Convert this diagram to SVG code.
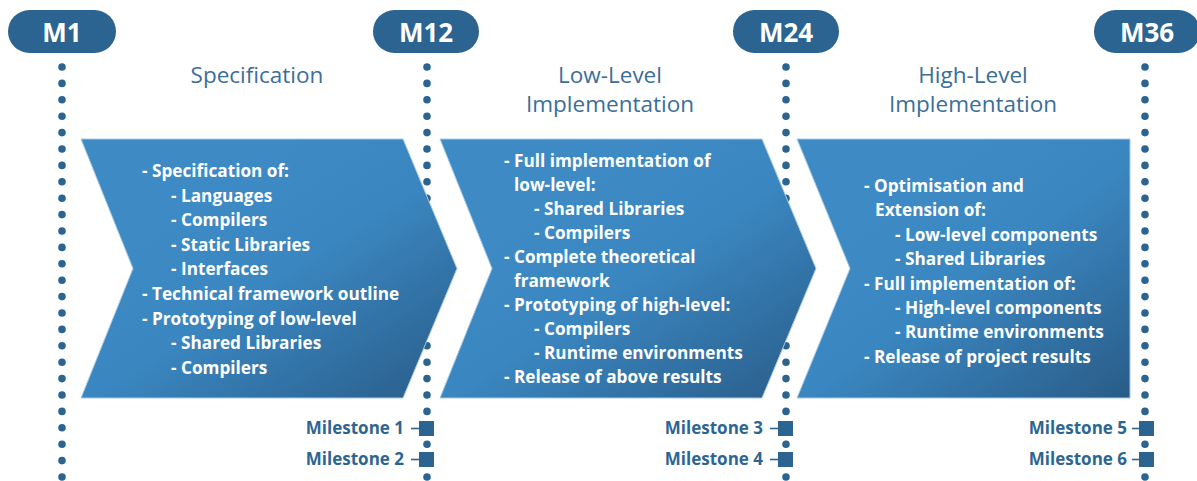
<svg xmlns="http://www.w3.org/2000/svg" width="1197" height="481" viewBox="0 0 1197 481">
  <style>
    .pill { fill: #2b6490; }
    .pill-label { font-family: "Open Sans", "Liberation Sans", sans-serif; font-weight: 700; font-size: 26px; fill: #ffffff; text-anchor: middle; }
    .timeline { stroke: #2b6490; stroke-width: 7.6; stroke-linecap: round; stroke-dasharray: 0 16.4; fill: none; }
    .phase { fill: url(#phaseFill); stroke: #a9c9e4; stroke-width: 1; }
    .title { font-family: "Open Sans", "Liberation Sans", sans-serif; font-size: 22.5px; fill: #3a6e9b; text-anchor: middle; }
    .body { font-family: "Open Sans", "Liberation Sans", sans-serif; font-weight: 700; font-size: 17.2px; fill: #ffffff; }
    .ms-label { font-family: "Open Sans", "Liberation Sans", sans-serif; font-weight: 700; font-size: 17px; fill: #2d6592; text-anchor: end; }
    .ms-box { fill: #2b6490; }
    .ms-tick { stroke: #2b6490; stroke-width: 1.6; }
  </style>
  <defs>
    <linearGradient id="phaseFill" x1="0.3" y1="0.25" x2="1" y2="1">
      <stop offset="0" stop-color="#3d8ac5"/>
      <stop offset="0.35" stop-color="#3a86c0"/>
      <stop offset="1" stop-color="#295c88"/>
    </linearGradient>
  </defs>

  <rect width="1197" height="481" fill="#ffffff"/>

  <!-- dotted month timelines -->
  <g id="connectors">
    <line class="timeline" x1="62" y1="67" x2="62" y2="477"/>
    <line class="timeline" x1="427" y1="67" x2="427" y2="477"/>
    <line class="timeline" x1="786" y1="67" x2="786" y2="477"/>
    <line class="timeline" x1="1145" y1="67" x2="1145" y2="477"/>
  </g>

  <!-- month badges -->
  <g id="m1">
    <rect class="pill" x="8" y="10" width="108" height="43" rx="21.5"/>
    <text class="pill-label" x="62" y="41.5">M1</text>
  </g>
  <g id="m12">
    <rect class="pill" x="373" y="10" width="106" height="43" rx="21.5"/>
    <text class="pill-label" x="426" y="41.5">M12</text>
  </g>
  <g id="m24">
    <rect class="pill" x="733" y="10" width="106" height="43" rx="21.5"/>
    <text class="pill-label" x="786" y="41.5">M24</text>
  </g>
  <g id="m36">
    <rect class="pill" x="1094" y="10" width="106" height="43" rx="21.5"/>
    <text class="pill-label" x="1147" y="41.5">M36</text>
  </g>

  <!-- phase 1 -->
  <g id="phase-specification">
    <text class="title" x="257" y="83">Specification</text>
    <polygon class="phase" points="81,139 403,139 457,268.5 403,398 81,398 133,268.5"/>
    <text class="body">
      <tspan x="142" y="177">- Specification of:</tspan>
      <tspan x="171" y="201.6">- Languages</tspan>
      <tspan x="171" y="226.2">- Compilers</tspan>
      <tspan x="171" y="250.8">- Static Libraries</tspan>
      <tspan x="171" y="275.4">- Interfaces</tspan>
      <tspan x="142" y="300">- Technical framework outline</tspan>
      <tspan x="142" y="324.6">- Prototyping of low-level</tspan>
      <tspan x="171" y="349.2">- Shared Libraries</tspan>
      <tspan x="171" y="373.8">- Compilers</tspan>
    </text>
  </g>

  <!-- phase 2 -->
  <g id="phase-low-level">
    <text class="title" x="610" y="83">Low-Level</text>
    <text class="title" x="610" y="112">Implementation</text>
    <polygon class="phase" points="440,139 762,139 816,268.5 762,398 440,398 492,268.5"/>
    <text class="body">
      <tspan x="504" y="167">- Full implementation of</tspan>
      <tspan x="514" y="191">low-level:</tspan>
      <tspan x="534" y="215">- Shared Libraries</tspan>
      <tspan x="534" y="239">- Compilers</tspan>
      <tspan x="504" y="263">- Complete theoretical</tspan>
      <tspan x="514" y="287">framework</tspan>
      <tspan x="504" y="311">- Prototyping of high-level:</tspan>
      <tspan x="534" y="335">- Compilers</tspan>
      <tspan x="534" y="359">- Runtime environments</tspan>
      <tspan x="504" y="383">- Release of above results</tspan>
    </text>
  </g>

  <!-- phase 3 -->
  <g id="phase-high-level">
    <text class="title" x="973" y="83">High-Level</text>
    <text class="title" x="973" y="112">Implementation</text>
    <polygon class="phase" points="797,139 1130,139 1130,398 797,398 850,268.5"/>
    <text class="body">
      <tspan x="864" y="192">- Optimisation and</tspan>
      <tspan x="875" y="216.4">Extension of:</tspan>
      <tspan x="895" y="240.8">- Low-level components</tspan>
      <tspan x="895" y="265.2">- Shared Libraries</tspan>
      <tspan x="864" y="289.6">- Full implementation of:</tspan>
      <tspan x="895" y="314">- High-level components</tspan>
      <tspan x="895" y="338.4">- Runtime environments</tspan>
      <tspan x="864" y="362.8">- Release of project results</tspan>
    </text>
  </g>

  <!-- milestone markers -->
  <g id="milestones-m12">
    <text class="ms-label" x="404" y="434">Milestone 1</text>
    <line class="ms-tick" x1="411" y1="428.5" x2="419" y2="428.5"/>
    <rect class="ms-box" x="419" y="421" width="15" height="15"/>
    <text class="ms-label" x="404" y="465">Milestone 2</text>
    <line class="ms-tick" x1="411" y1="459.5" x2="419" y2="459.5"/>
    <rect class="ms-box" x="419" y="452" width="15" height="15"/>
  </g>
  <g id="milestones-m24">
    <text class="ms-label" x="763" y="434">Milestone 3</text>
    <line class="ms-tick" x1="770" y1="428.5" x2="778" y2="428.5"/>
    <rect class="ms-box" x="778" y="421" width="15" height="15"/>
    <text class="ms-label" x="763" y="465">Milestone 4</text>
    <line class="ms-tick" x1="770" y1="459.5" x2="778" y2="459.5"/>
    <rect class="ms-box" x="778" y="452" width="15" height="15"/>
  </g>
  <g id="milestones-m36">
    <text class="ms-label" x="1127" y="434">Milestone 5</text>
    <line class="ms-tick" x1="1132" y1="428.5" x2="1139" y2="428.5"/>
    <rect class="ms-box" x="1139" y="421" width="15" height="15"/>
    <text class="ms-label" x="1127" y="465">Milestone 6</text>
    <line class="ms-tick" x1="1132" y1="459.5" x2="1139" y2="459.5"/>
    <rect class="ms-box" x="1139" y="452" width="15" height="15"/>
  </g>
</svg>
